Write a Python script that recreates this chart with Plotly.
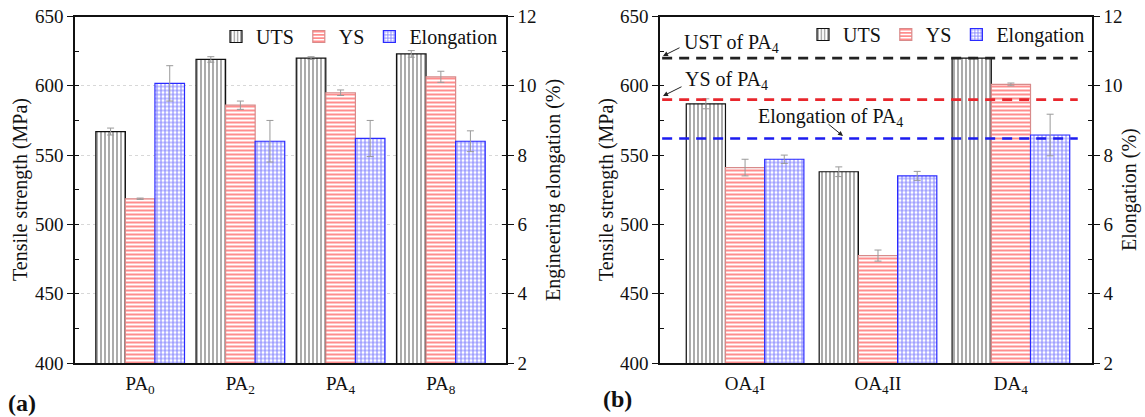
import plotly.graph_objects as go

# ---------------- data ----------------
cats_a = ["PA<sub>0</sub>", "PA<sub>2</sub>", "PA<sub>4</sub>", "PA<sub>8</sub>"]
uts_a = [567, 619, 620, 623]
uts_a_err = [2.5, 2, 1, 2.4]
ys_a = [518.5, 586, 595, 606.5]
ys_a_err = [0.5, 3, 2, 4]
el_a = [10.07, 8.4, 8.48, 8.4]
el_a_err = [0.51, 0.6, 0.52, 0.3]

cats_b = ["OA<sub>4</sub>I", "OA<sub>4</sub>II", "DA<sub>4</sub>"]
uts_b = [587, 538, 620]
uts_b_err = [3.6, 3.5, 0.5]
ys_b = [541, 477.5, 601]
ys_b_err = [6, 4, 1]
el_b = [7.88, 7.4, 8.58]
el_b_err = [0.12, 0.13, 0.6]

ref_labels = ["UST of PA<sub>4</sub>", "YS of PA<sub>4</sub>", "Elongation of PA<sub>4</sub>"]
ref_values = [620, 590, 562]
ref_colors = ["#222222", "#e8262c", "#1c1cf0"]

left_ticks = [400, 450, 500, 550, 600, 650]
right_ticks = [2, 4, 6, 8, 10, 12]

# ---------------- style ----------------
FONT = "Liberation Serif, Times New Roman, Times, serif"
W, H = 1145, 417
BW = 0.295
offs = [-1.5 * BW, -0.5 * BW, 0.5 * BW]
err_style = dict(type="data", color="#9a9a9a", thickness=1, width=3.5)

styles = {
    "UTS": dict(color="white", line=dict(color="#111111", width=1.2),
                pattern=dict(shape="|", fgcolor="#111111", bgcolor="white", size=4, solidity=0.35)),
    "YS": dict(color="white", line=dict(color="#d88a8a", width=1.2),
               pattern=dict(shape="-", fgcolor="#ff1c1c", bgcolor="white", size=4, solidity=0.5)),
    "Elongation": dict(color="white", line=dict(color="#2a2aff", width=1.2),
                       pattern=dict(shape="+", fgcolor="#0a0aff", bgcolor="white", size=4, solidity=0.46)),
}

fig = go.Figure()

def add_panel(cats, uts, uts_e, ys, ys_e, el, el_e, xa, ya_l, ya_r, legend):
    for name, vals, errs, ya, off in [
        ("UTS", uts, uts_e, ya_l, offs[0]),
        ("YS", ys, ys_e, ya_l, offs[1]),
        ("Elongation", el, el_e, ya_r, offs[2]),
    ]:
        fig.add_trace(go.Bar(
            x=cats, y=vals, name=name, xaxis=xa, yaxis=ya,
            width=BW, offset=off, marker=styles[name],
            error_y=dict(array=errs, **err_style),
            legend=legend, showlegend=True,
        ))

add_panel(cats_a, uts_a, uts_a_err, ys_a, ys_a_err, el_a, el_a_err, "x", "y", "y2", "legend")
add_panel(cats_b, uts_b, uts_b_err, ys_b, ys_b_err, el_b, el_b_err, "x2", "y3", "y4", "legend2")

def PX(px):
    return px / W

def PY(py):
    return 1 - py / H

# domains (paper fractions)
ax_a = [PX(75), PX(506)]
ax_b = [PX(660), PX(1092)]
ydom = [PY(363), PY(16.5)]

tickfont = dict(family=FONT, size=19, color="#111")
common_x = dict(showline=True, linecolor="#111", linewidth=1.5, mirror=True, ticks="",
                tickfont=dict(family=FONT, size=19, color="#111"), showgrid=False,
                zeroline=False, automargin=False, ticklabelstandoff=2,
                ticklabeloverflow="allow")
common_yl = dict(showline=True, linecolor="#111", linewidth=1.5, ticks="outside", ticklen=6,
                 tickwidth=1.3, tickcolor="#111", tickfont=tickfont, range=[400, 650],
                 tickvals=left_ticks, zeroline=False, automargin=False,
                 ticklabeloverflow="allow",
                 minor=dict(ticks="inside", ticklen=4, tickwidth=1.3, tickcolor="#111", dtick=25, showgrid=False))
common_yr = dict(showline=True, linecolor="#111", linewidth=1.5, ticks="outside", ticklen=6,
                 tickwidth=1.3, tickcolor="#111", tickfont=tickfont, range=[2, 12],
                 tickvals=right_ticks, zeroline=False, automargin=False, side="right",
                 showgrid=False, ticklabeloverflow="allow",
                 minor=dict(ticks="inside", ticklen=4, tickwidth=1.3, tickcolor="#111", dtick=1, showgrid=False))

fig.update_layout(
    width=W, height=H,
    margin=dict(l=0, r=0, t=0, b=0),
    paper_bgcolor="white", plot_bgcolor="white",
    font=dict(family=FONT, size=19, color="#111"),
    barmode="overlay",
    xaxis=dict(domain=ax_a, anchor="y", range=[-0.65, 3.65], **common_x),
    yaxis=dict(domain=ydom, anchor="x", showgrid=True, gridcolor="#d8d8d8", griddash="dot",
               gridwidth=1, **common_yl),
    yaxis2=dict(overlaying="y", anchor="x", **common_yr),
    xaxis2=dict(domain=ax_b, anchor="y3", range=[-0.64, 2.61], **common_x),
    yaxis3=dict(domain=ydom, anchor="x2", showgrid=False, **common_yl),
    yaxis4=dict(overlaying="y3", anchor="x2", **common_yr),
    legend=dict(orientation="h", x=PX(503), xanchor="right", y=PY(17), yanchor="top",
                bgcolor="rgba(0,0,0,0)", font=dict(family=FONT, size=20, color="#111"),
                traceorder="normal"),
    legend2=dict(orientation="h", x=PX(1090), xanchor="right", y=PY(15), yanchor="top",
                 bgcolor="rgba(0,0,0,0)", font=dict(family=FONT, size=20, color="#111"),
                 traceorder="normal"),
)

# reference dashed lines in panel (b)
for v, c in zip(ref_values, ref_colors):
    fig.add_shape(type="line", xref="x2 domain", yref="y3", x0=0.005, x1=0.967, y0=v, y1=v,
                  line=dict(color=c, width=2.6, dash="10px,7px"), layer="above")

# text labels for reference lines
text_pos = [(682, 43), (683, 80), (756, 117)]
for lab, (tx, ty) in zip(ref_labels, text_pos):
    fig.add_annotation(xref="paper", yref="paper", x=PX(tx), y=PY(ty), text=lab, showarrow=False,
                       xanchor="left", yanchor="middle",
                       font=dict(family=FONT, size=20, color="#111"))

# arrows (tail -> head)
arrows = [((681, 47), (663, 56)), ((683, 86), (663, 96)), ((827, 123), (843, 136))]
for (tx, ty), (hx, hy) in arrows:
    fig.add_annotation(xref="paper", yref="paper", x=PX(hx), y=PY(hy), text="", showarrow=True,
                       ax=tx - hx, ay=ty - hy, arrowhead=2, arrowsize=1, arrowwidth=1,
                       arrowcolor="#222")

# axis titles
titles = [
    ("Tensile strength (MPa)", 20, 190),
    ("Engineering elongation (%)", 553, 190),
    ("Tensile strength (MPa)", 606, 190),
    ("Elongation (%)", 1129, 190),
]
for t, tx, ty in titles:
    fig.add_annotation(xref="paper", yref="paper", x=PX(tx), y=PY(ty), text=t, showarrow=False,
                       textangle=-90, xanchor="center", yanchor="middle",
                       font=dict(family=FONT, size=20, color="#111"))

# panel letters
for t, tx, ty in [("(a)", 6, 403), ("(b)", 601, 399)]:
    fig.add_annotation(xref="paper", yref="paper", x=PX(tx), y=PY(ty), text="<b>" + t + "</b>",
                       showarrow=False, xanchor="left", yanchor="middle",
                       font=dict(family=FONT, size=24, color="#111"))

# remove the browser's default 8px page margin so the figure fills the window exactly
fig.write_html("out.html", config={"displayModeBar": False},
               post_script="document.body.style.margin='0';")
